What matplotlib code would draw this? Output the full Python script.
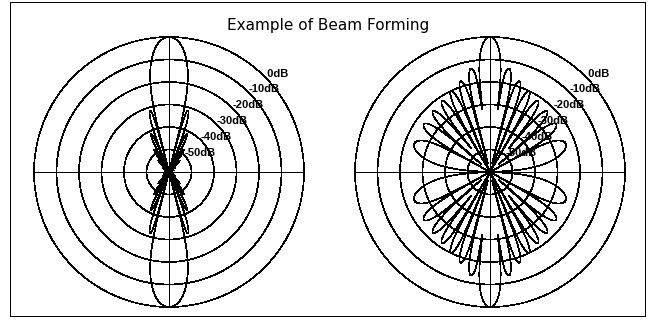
import numpy as np
import matplotlib
matplotlib.use("Agg")
import matplotlib.pyplot as plt
from matplotlib.patches import Rectangle

# ring levels (dB) and their labels
ring_db = [0, -10, -20, -30, -40, -50]
ring_labels = [" 0dB", "-10dB", "-20dB", "-30dB", "-40dB", "-50dB"]
floor_db = -60

# element spacing in wavelengths, pattern sampled every half degree
spacing = 0.5
step_deg = 0.5

# left: 16 elements, cosine-squared taper
left_weights = [0.0096, 0.0843, 0.2222, 0.4025, 0.5975, 0.7778, 0.9157, 0.9904,
                0.9904, 0.9157, 0.7778, 0.5975, 0.4025, 0.2222, 0.0843, 0.0096]
# right: 16 elements, uniform
right_weights = [1, 1, 1, 1, 1, 1, 1, 1, 1, 1, 1, 1, 1, 1, 1, 1]


def pattern(weights, theta):
    w = np.array(weights, dtype=float)
    n = np.arange(len(w))
    psi = 2 * np.pi * spacing * np.cos(theta)
    af = np.abs(np.exp(1j * np.outer(psi, n)) @ w) / w.sum()
    db = 20 * np.log10(np.maximum(af, 1e-12))
    return np.clip(db, floor_db, 0)


def draw_polar(ax, weights):
    line = dict(color="black", lw=0.5, clip_on=False, antialiased=False)
    t = np.linspace(0, 2 * np.pi, 721)
    for level in ring_db:
        r = (level - floor_db) / -floor_db
        ax.plot(r * np.cos(t), r * np.sin(t), **line)
    ax.plot([-1, 1], [0, 0], **line)
    ax.plot([0, 0], [-1, 1], **line)

    theta = np.deg2rad(np.arange(0, 360 + step_deg, step_deg))
    r = (pattern(weights, theta) - floor_db) / -floor_db
    ax.plot(r * np.cos(theta), r * np.sin(theta), **line)

    for level, lab in zip(ring_db, ring_labels):
        rr = (level - floor_db) / -floor_db
        ax.text(rr * np.cos(np.pi / 4), rr * np.sin(np.pi / 4), lab,
                ha="left", va="baseline", fontsize=8, fontweight="bold",
                family="Liberation Sans")

    ax.set_xlim(-1, 1)
    ax.set_ylim(-1, 1)
    ax.axis("off")


def main():
    W, H = 659, 320
    fig = plt.figure(figsize=(W / 100, H / 100), dpi=100)

    fig.patches.append(Rectangle((10 / W, 1 - 316 / H), 635 / W, 314 / H,
                                 transform=fig.transFigure, fill=False,
                                 edgecolor="black", lw=0.5, antialiased=False))

    ax1 = fig.add_axes([34 / W, 13 / H, 270 / W, 270 / H])
    ax2 = fig.add_axes([355 / W, 13 / H, 270 / W, 270 / H])
    draw_polar(ax1, left_weights)
    draw_polar(ax2, right_weights)

    fig.text(328.5 / W, 1 - 30 / H, "Example of Beam Forming", ha="center",
             va="baseline", fontsize=11, family="DejaVu Sans")

    fig.savefig("out.png", dpi=100)


if __name__ == "__main__":
    main()
